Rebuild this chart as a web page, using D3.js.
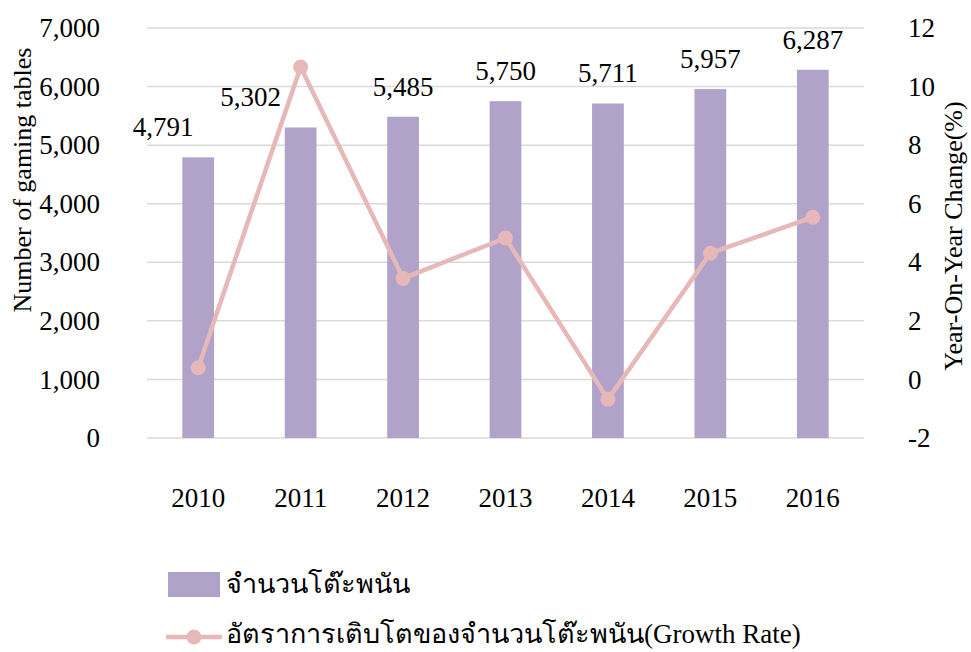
<!DOCTYPE html>
<html>
<head>
<meta charset="utf-8">
<script src="https://cdn.jsdelivr.net/npm/d3@7"></script>
<style>
  body { margin: 0; background: #fff; }
  text { font-family: "Liberation Serif", "Times New Roman", serif; fill: #000; }
</style>
</head>
<body>
<svg id="chart"></svg>
<script>
const years = ["2010", "2011", "2012", "2013", "2014", "2015", "2016"];
const tables = [4791, 5302, 5485, 5750, 5711, 5957, 6287];
const growth = [0.4, 10.67, 3.45, 4.83, -0.68, 4.31, 5.54];
const leftTicks = [0, 1000, 2000, 3000, 4000, 5000, 6000, 7000];
const rightTicks = [-2, 0, 2, 4, 6, 8, 10, 12];
const barName = "จำนวนโต๊ะพนัน";
const lineNameThai = "อัตราการเติบโตของจำนวนโต๊ะพนัน";
const lineNameLatin = "(Growth Rate)";
// manual nudges for the first two labels, like the original
const labelShift = [-35, -50, 0, 0, 0, 0, 0];

const W = 971, H = 652;
const margin = { top: 28, right: 107, bottom: 214, left: 147 },
    width = W - margin.left - margin.right,
    height = H - margin.top - margin.bottom;

const FS = 27;

const svg = d3.select("#chart")
    .attr("width", W)
    .attr("height", H);

const g = svg.append("g")
    .attr("transform", `translate(${margin.left},${margin.top})`);

const x = d3.scaleBand().domain(years).range([0, width]).padding(0);
const y = d3.scaleLinear().domain([0, 7000]).range([height, 0]);
const y2 = d3.scaleLinear().domain([-2, 12]).range([height, 0]);

const barW = x.bandwidth() * 0.31;

// gridlines
g.append("g")
    .selectAll("line")
    .data(leftTicks)
    .join("line")
    .attr("x1", 0)
    .attr("x2", width)
    .attr("y1", d => y(d))
    .attr("y2", d => y(d))
    .attr("stroke", "#d9d9d9")
    .attr("stroke-width", 1.5);

function styleAxis(sel) {
    sel.select(".domain").remove();
    sel.selectAll("text")
        .style("font-family", "'Liberation Serif', serif")
        .style("font-size", FS + "px")
        .attr("fill", "#000");
}

// left axis
g.append("g")
    .call(d3.axisLeft(y).tickValues(leftTicks).tickFormat(d3.format(",")).tickSize(0).tickPadding(47))
    .call(styleAxis);

// right axis
g.append("g")
    .attr("transform", `translate(${width},0)`)
    .call(d3.axisRight(y2).tickValues(rightTicks).tickFormat(d => String(d)).tickSize(0).tickPadding(44))
    .call(styleAxis);

// bottom axis
g.append("g")
    .attr("transform", `translate(0,${height})`)
    .call(d3.axisBottom(x).tickSize(0).tickPadding(50))
    .call(styleAxis);

// bars
g.selectAll(".bar")
    .data(tables)
    .join("rect")
    .attr("class", "bar")
    .attr("x", (d, i) => x(years[i]) + x.bandwidth() / 2 - barW / 2)
    .attr("y", d => y(d))
    .attr("width", barW)
    .attr("height", d => height - y(d))
    .attr("fill", "#b1a2c9");

// bar labels
g.selectAll(".val")
    .data(tables)
    .join("text")
    .attr("class", "val")
    .attr("x", (d, i) => x(years[i]) + x.bandwidth() / 2 + labelShift[i])
    .attr("y", d => y(d) - 21)
    .attr("text-anchor", "middle")
    .style("font-size", FS + "px")
    .text(d => d3.format(",")(d));

// growth line
const line = d3.line()
    .x((d, i) => x(years[i]) + x.bandwidth() / 2)
    .y(d => y2(d));

g.append("path")
    .datum(growth)
    .attr("d", line)
    .attr("fill", "none")
    .attr("stroke", "#e6b9b8")
    .attr("stroke-width", 4.5)
    .attr("stroke-linejoin", "round");

g.selectAll(".dot")
    .data(growth)
    .join("circle")
    .attr("class", "dot")
    .attr("cx", (d, i) => x(years[i]) + x.bandwidth() / 2)
    .attr("cy", d => y2(d))
    .attr("r", 7.5)
    .attr("fill", "#e6b9b8");

// axis titles
svg.append("text")
    .attr("transform", "translate(31,180) rotate(-90)")
    .attr("text-anchor", "middle")
    .style("font-size", "26px")
    .text("Number of gaming tables");

svg.append("text")
    .attr("transform", "translate(962,236) rotate(-90)")
    .attr("text-anchor", "middle")
    .style("font-size", "26px")
    .text("Year-On-Year Change(%)");

// legend
const leg = svg.append("g");
leg.append("rect")
    .attr("x", 168).attr("y", 572)
    .attr("width", 52).attr("height", 25)
    .attr("fill", "#b1a2c9");
leg.append("text")
    .attr("x", 226).attr("y", 593)
    .style("font-size", "27px")
    .text(barName);

leg.append("line")
    .attr("x1", 166).attr("x2", 222)
    .attr("y1", 637).attr("y2", 637)
    .attr("stroke", "#e6b9b8").attr("stroke-width", 4.5);
leg.append("circle")
    .attr("cx", 194).attr("cy", 637).attr("r", 7.5)
    .attr("fill", "#e6b9b8");
const t2 = leg.append("text")
    .attr("x", 226).attr("y", 643)
    .style("font-size", "27px");
t2.append("tspan").text(lineNameThai);
t2.append("tspan").text(lineNameLatin);
</script>
</body>
</html>
